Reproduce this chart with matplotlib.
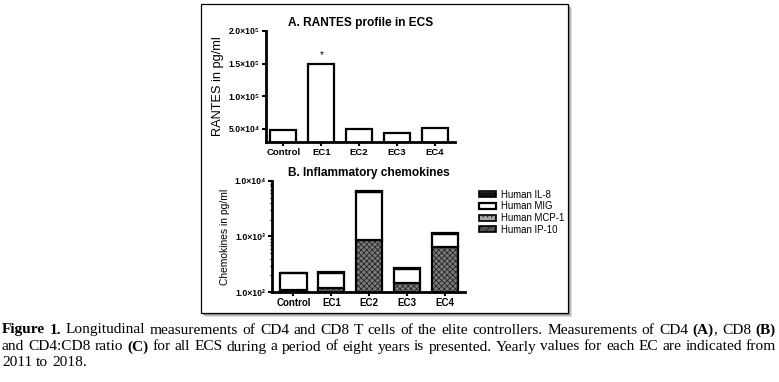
import matplotlib.pyplot as plt
from matplotlib.patches import Rectangle, Patch
from matplotlib.ticker import LogLocator, NullFormatter
from matplotlib.legend_handler import HandlerTuple

plt.rcParams['font.family'] = ['Liberation Sans', 'DejaVu Sans']
plt.rcParams['hatch.linewidth'] = 0.6

# --- data ---
groups = ["Control", "EC1", "EC2", "EC3", "EC4"]

# panel A: RANTES (pg/ml)
rantes = [4.85e4, 1.5e5, 5.0e4, 4.4e4, 5.15e4]
rantes_ticks = [5e4, 1e5, 1.5e5, 2e5]
rantes_ticklabels = ["5.0×10⁴", "1.0×10⁵", "1.5×10⁵", "2.0×10⁵"]

# panel B: chemokines (pg/ml), stacked bottom -> top
ip10 = [40, 45, 60, 50, 55]
mcp1 = [69, 73, 805, 95, 595]
mig = [106, 104, 5535, 117, 460]
il8 = [5, 7, 200, 8, 50]
chemo_ticks = [1e2, 1e3, 1e4]
chemo_ticklabels = ["1.0×10²", "1.0×10³", "1.0×10⁴"]

caption_lines = [
    [[("Figure", True)], [("1.", True)], "Longitudinal", "measurements", "of", "CD4", "and",
     "CD8", "T", "cells", "of", "the", "elite", "controllers.", "Measurements", "of", "CD4",
     [("(A)", True), (",", False)], "CD8", [("(B)", True)]],
    ["and", "CD4:CD8", "ratio", [("(C)", True)], "for", "all", "ECS", "during", "a", "period",
     "of", "eight", "years", "is", "presented.", "Yearly", "values", "for", "each", "EC", "are",
     "indicated", "from"],
    ["2011", "to", "2018."],
]

W, H = 779, 382
fig = plt.figure(figsize=(W / 100, H / 100), dpi=100)


def box(x0, y0, x1, y1):
    # pixel box (top-left origin) -> figure fraction [l, b, w, h]
    return [x0 / W, 1 - y1 / H, (x1 - x0) / W, (y1 - y0) / H]


# frame with shadow
shadow_cols = ["#7a7a7a", "#9a9a9a", "#bdbdbd", "#dcdcdc"]
for k, c in enumerate(shadow_cols):
    off = k + 1
    fig.patches.append(Rectangle(((201 + off) / W, 1 - (313 + off) / H), 367 / W, 309 / H,
                                 transform=fig.transFigure, facecolor=c, edgecolor="none",
                                 zorder=-5 - k))
fig.patches.append(Rectangle((201 / W, 1 - 313 / H), 367 / W, 309 / H,
                             transform=fig.transFigure, facecolor="white",
                             edgecolor="black", linewidth=0.9, zorder=-1))

x = list(range(len(groups)))
bar_w = 0.69

# ---- panel A ----
axA = fig.add_axes(box(266, 31, 455, 142))
axA.bar(x, rantes, width=bar_w, facecolor="white", edgecolor="black", linewidth=1.6)
axA.set_ylim(3.0e4, 2.0e5)
axA.set_xlim(-0.46, 4.53)
axA.set_yticks(rantes_ticks)
axA.set_yticklabels(rantes_ticklabels, fontsize=6.2, fontweight="bold")
axA.set_xticks(x)
axA.set_xticklabels(groups, fontsize=6.8, fontweight="bold")
axA.text(1, rantes[1] + 6e3, "*", ha="center", va="bottom", fontsize=7)
axA.set_title("A. RANTES profile in ECS", fontsize=8.6, fontweight="bold", pad=3.5)
axA.set_ylabel("RANTES in pg/ml", fontsize=9.2, labelpad=3)

# ---- panel B ----
axB = fig.add_axes(box(272, 181, 465, 292))
axB.set_yscale("log")
bottom = [1.0] * len(groups)
layers = [
    (ip10, "#555555", "////", "#222222"),
    (mcp1, "#7c7c7c", "xxxxxx", "#262626"),
    (mig, "white", None, None),
    (il8, "#111111", None, None),
]
for vals, fc, hatch, hc in layers:
    axB.bar(x, vals, bottom=bottom, width=bar_w, facecolor=fc, hatch=hatch,
            edgecolor=hc if hc else "none", linewidth=0)
    axB.bar(x, vals, bottom=bottom, width=bar_w, fill=False, edgecolor="black", linewidth=1.6)
    bottom = [b + v for b, v in zip(bottom, vals)]
axB.set_ylim(1e2, 1e4)
axB.set_xlim(-0.567, 4.53)
axB.set_yticks(chemo_ticks)
axB.set_yticklabels(chemo_ticklabels, fontsize=6.2, fontweight="bold")
axB.yaxis.set_minor_locator(LogLocator(base=10, subs=range(2, 10)))
axB.yaxis.set_minor_formatter(NullFormatter())
axB.set_xticks(x)
axB.set_xticklabels(groups, fontsize=7, fontweight="bold")
axB.set_title("B. Inflammatory chemokines", fontsize=8.6, fontweight="bold", pad=3.5)
axB.set_ylabel("Chemokines in pg/ml", fontsize=7.4, labelpad=3)

for ax in (axA, axB):
    for s in ("top", "right"):
        ax.spines[s].set_visible(False)
    for s in ("left", "bottom"):
        ax.spines[s].set_linewidth(2.0)
    ax.tick_params(which="major", length=3, width=1.5, pad=1.5)
    ax.tick_params(which="minor", length=1.5, width=1.0)

# legend
h_il8 = (Patch(facecolor="#111111", edgecolor="none"),
         Patch(fill=False, hatch="---", edgecolor="#bbbbbb", linewidth=0),
         Patch(fill=False, edgecolor="black", linewidth=1.2))
h_mig = Patch(facecolor="white", edgecolor="black", linewidth=1.6)
h_mcp = (Patch(facecolor="#a8a8a8", hatch="....", edgecolor="#333333", linewidth=0),
         Patch(fill=False, edgecolor="black", linewidth=1.2))
h_ip = (Patch(facecolor="#555555", hatch="////", edgecolor="#222222", linewidth=0),
        Patch(fill=False, edgecolor="black", linewidth=1.2))
fig.legend([h_il8, h_mig, h_mcp, h_ip],
           ["Human IL-8", "Human MIG", "Human MCP-1", "Human IP-10"],
           handler_map={tuple: HandlerTuple(ndivide=1, pad=0)},
           loc="upper left", bbox_to_anchor=(474 / W, 1 - 185 / H), frameon=False,
           fontsize=6.9, handlelength=1.8, handleheight=0.6, handletextpad=0.55,
           labelspacing=0.17, borderpad=0)

# caption, justified
renderer = fig.canvas.get_renderer()
serif = ["Liberation Serif", "DejaVu Serif"]
line_y = [330, 347, 362]
x_left, x_right = 2, 776


def segs(word):
    return [(word, False)] if isinstance(word, str) else word


def text_w(txt, size, bold=False):
    t = fig.text(0, 0, txt, fontsize=size, family=serif,
                 fontweight="bold" if bold else "normal")
    w = t.get_window_extent(renderer).width
    t.remove()
    return w


# pick a font size so that the first line fits with ordinary word spaces
base = 10.0
nat = sum(text_w(t, base, b) for w in caption_lines[0] for t, b in segs(w))
nat += (len(caption_lines[0]) - 1) * (text_w("a b", base) - text_w("ab", base))
cap_size = min(base * (x_right - x_left) / nat * 0.985, 12.0)
sp = text_w("a b", cap_size) - text_w("ab", cap_size)

for li, words in enumerate(caption_lines):
    items = []
    for w in words:
        parts = []
        for txt, bold in segs(w):
            t = fig.text(0, 0, txt, fontsize=cap_size, family=serif,
                         fontweight="bold" if bold else "normal", va="center", ha="left")
            parts.append((t, t.get_window_extent(renderer).width))
        items.append(parts)
    widths = [sum(p[1] for p in parts) for parts in items]
    justify = li < len(caption_lines) - 1
    gap = (x_right - x_left - sum(widths)) / (len(items) - 1) if justify else sp
    cx = x_left
    for parts, wsum in zip(items, widths):
        px = cx
        for t, wpx in parts:
            t.set_position((px / W, 1 - line_y[li] / H))
            px += wpx
        cx += wsum + gap

fig.savefig("out.png", dpi=100)
